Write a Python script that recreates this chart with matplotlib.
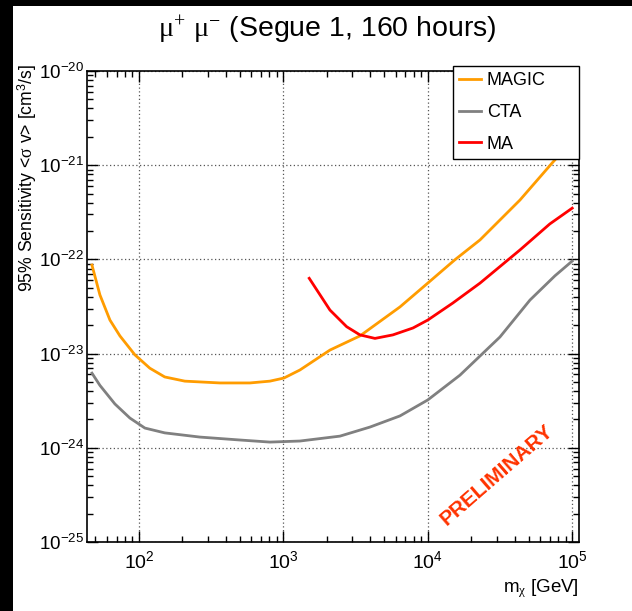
#!/usr/bin/env python3
"""
Sensitivity curves for dark matter annihilation into mu+ mu- (Segue 1, 160 h).
"""

import numpy as np
import matplotlib
matplotlib.use('Agg')
import matplotlib.pyplot as plt
from matplotlib.patches import Rectangle
from matplotlib.ticker import FuncFormatter, LogLocator, NullFormatter

plt.rcParams['font.family'] = ['Liberation Sans', 'DejaVu Sans']
plt.rcParams['mathtext.fontset'] = 'custom'
plt.rcParams['mathtext.rm'] = 'Liberation Serif'
plt.rcParams['mathtext.it'] = 'Liberation Serif:italic'
plt.rcParams['mathtext.sf'] = 'Liberation Sans'

# MAGIC curve (mass in GeV, <sigma v> in cm^3/s)
magic_mass = [47.3, 53.7, 63.0, 73.9, 93.8, 119, 151, 208, 364, 587, 807, 1009,
              1303, 2102, 3390, 6420, 1.0e4, 1.54e4, 2.30e4, 4.35e4, 7.36e4, 1.05e5]
magic_sv = [8.7e-23, 4.2e-23, 2.27e-23, 1.54e-23, 9.7e-24, 7.0e-24, 5.65e-24, 5.1e-24,
            4.88e-24, 4.88e-24, 5.1e-24, 5.5e-24, 6.7e-24, 1.09e-23, 1.54e-23, 3.13e-23,
            5.6e-23, 9.9e-23, 1.61e-22, 4.27e-22, 1.08e-21, 1.95e-21]

# CTA curve
cta_mass = [47.3, 53.7, 68.2, 86.6, 110, 151, 264, 500, 807, 1303, 2466, 3979,
            6420, 1.0e4, 1.67e4, 3.16e4, 5.1e4, 7.6e4, 1.0e5]
cta_sv = [6.2e-24, 4.6e-24, 2.92e-24, 2.07e-24, 1.62e-24, 1.44e-24, 1.30e-24, 1.21e-24,
          1.15e-24, 1.18e-24, 1.33e-24, 1.66e-24, 2.18e-24, 3.22e-24, 5.9e-24, 1.50e-23,
          3.7e-23, 6.7e-23, 9.6e-23]

# MA curve
ma_mass = [1511, 2102, 2744, 3390, 4309, 5737, 7898, 1.0e4, 1.49e4, 2.30e4, 4.35e4,
           7.0e4, 1.0e5]
ma_sv = [6.3e-23, 2.9e-23, 1.93e-23, 1.58e-23, 1.45e-23, 1.58e-23, 1.87e-23, 2.27e-23,
         3.44e-23, 5.6e-23, 1.26e-22, 2.38e-22, 3.5e-22]

x_ticks = [1e2, 1e3, 1e4, 1e5]
y_ticks = [1e-25, 1e-24, 1e-23, 1e-22, 1e-21, 1e-20]

W, H = 632, 611
fig = plt.figure(figsize=(W / 100, H / 100), dpi=100, facecolor='white')

# black strips along the top and left edge of the original screenshot
fig.patches.append(Rectangle((0, 0), 13 / W, 1, transform=fig.transFigure,
                             facecolor='black', edgecolor='none', zorder=-1))
fig.patches.append(Rectangle((0, 1 - 6 / H), 1, 6 / H, transform=fig.transFigure,
                             facecolor='black', edgecolor='none', zorder=-1))

left, right, bottom, top = 86.7, 579.3, 542, 71
ax = fig.add_axes([left / W, 1 - bottom / H, (right - left) / W, (bottom - top) / H])

ax.plot(magic_mass, magic_sv, color='#FF9C00', lw=2, label='MAGIC')
ax.plot(cta_mass, cta_sv, color='#808080', lw=2, label='CTA')
ax.plot(ma_mass, ma_sv, color='#FF0000', lw=2, label='MA')

ax.set_xscale('log')
ax.set_yscale('log')
ax.set_xlim(43.5, 1.12e5)
ax.set_ylim(1e-25, 1e-20)

fmt = FuncFormatter(lambda v, p: r'$\mathsf{10^{%d}}$' % round(np.log10(v)))
ax.set_xticks(x_ticks)
ax.set_yticks(y_ticks)
ax.xaxis.set_minor_locator(LogLocator(base=10, subs=np.arange(2, 10), numticks=20))
ax.yaxis.set_minor_locator(LogLocator(base=10, subs=np.arange(2, 10), numticks=20))
ax.xaxis.set_major_formatter(fmt)
ax.yaxis.set_major_formatter(fmt)
ax.xaxis.set_minor_formatter(NullFormatter())
ax.yaxis.set_minor_formatter(NullFormatter())

ax.tick_params(which='both', direction='in', top=True, right=True, width=1)
ax.tick_params(which='major', length=8)
ax.tick_params(axis='x', which='major', pad=6, labelsize=14)
ax.tick_params(axis='y', which='major', pad=2, labelsize=13.6)
ax.tick_params(which='minor', length=4.5)
for s in ax.spines.values():
    s.set_linewidth(1.2)

ax.grid(True, which='major', color='#555555', linestyle=(0, (1, 2)), lw=0.9)

ax.set_xlabel(r'm$_{\mathrm{\chi}}$ [GeV]', fontsize=13.5, ha='right')
ax.xaxis.set_label_coords(1.0, -0.075)
ax.set_ylabel(r'95% Sensitivity <$\mathrm{\sigma}$ v> [cm$^{\mathsf{3}}$/s]', fontsize=12.7, ha='right')
ax.yaxis.set_label_coords(-0.096, 1.015)

fig.text(327 / W, 1 - 30 / H, r'$\mathrm{\mu}^{+}$ $\mathrm{\mu}^{-}$ (Segue 1, 160 hours)',
         fontsize=20.5, ha='center', va='center')

ax.text(0.833, 0.142, 'PRELIMINARY', transform=ax.transAxes, rotation=41,
        color='#FF3300', fontsize=15, fontweight='bold', ha='center', va='center')

leg = fig.legend(loc='upper left',
                 bbox_to_anchor=(452.7 / W, 1 - 157.7 / H, (579 - 452.7) / W, (157.7 - 66) / H),
                 mode='expand', borderaxespad=0, fontsize=13, frameon=True, fancybox=False,
                 edgecolor='black', framealpha=1, handlelength=1.2, handletextpad=0.35,
                 labelspacing=0.82, borderpad=0.34)
leg.get_frame().set_linewidth(1.0)

plt.savefig('out.png', dpi=100, facecolor=fig.get_facecolor())
